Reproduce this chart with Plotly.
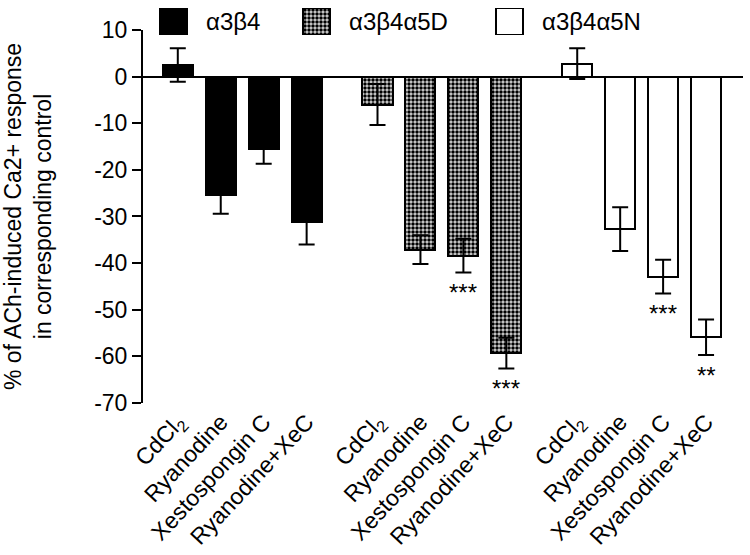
import plotly.graph_objects as go

# ---- data ----
treatments = ["CdCl<sub>2</sub>", "Ryanodine", "Xestospongin C", "Ryanodine+XeC"]
groups = ["α3β4", "α3β4α5D", "α3β4α5N"]
means = {
    "α3β4": [2.5, -25.3, -15.5, -31.2],
    "α3β4α5D": [-6.0, -37.1, -38.4, -59.3],
    "α3β4α5N": [2.8, -32.7, -42.9, -55.9],
}
errors = {
    "α3β4": [3.6, 4.1, 3.2, 4.8],
    "α3β4α5D": [4.4, 3.1, 3.6, 3.3],
    "α3β4α5N": [3.3, 4.7, 3.6, 3.8],
}
significance = {
    "α3β4": ["", "", "", ""],
    "α3β4α5D": ["", "", "***", "***"],
    "α3β4α5N": ["", "", "***", "**"],
}
y_ticks = [10, 0, -10, -20, -30, -40, -50, -60, -70]
y_tick_labels = ["10", "0", "-10", "-20", "-30", "-40", "-50", "-60", "-70"]
y_title = "% of ACh-induced Ca2+ response<br>in corresponding control"

# ---- style ----
FONT = "Liberation Sans, Arial, sans-serif"
styles = {
    "α3β4": dict(color="black", pattern=None),
    "α3β4α5D": dict(color="#9a9a9a", pattern=dict(shape=".", fgcolor="black", bgcolor="#d8d8d8",
                                                    size=4, solidity=0.6, fillmode="replace")),
    "α3β4α5N": dict(color="white", pattern=None),
}
GROUP_STRIDE = 4.65
BAR_W = 0.7

fig = go.Figure()
tickvals, ticktext = [], []
annotations = []
for g, name in enumerate(groups):
    xs = [g * GROUP_STRIDE + i for i in range(len(treatments))]
    tickvals += xs
    ticktext += treatments
    marker = dict(color=styles[name]["color"], line=dict(color="black", width=2))
    if styles[name]["pattern"]:
        marker["pattern"] = styles[name]["pattern"]
    fig.add_trace(go.Bar(
        x=xs, y=means[name], width=BAR_W, marker=marker, showlegend=False,
        error_y=dict(type="data", array=errors[name], visible=True,
                     color="black", thickness=2, width=8),
    ))
    for x, m, e, s in zip(xs, means[name], errors[name], significance[name]):
        if s:
            annotations.append(dict(x=x, y=m - e, xref="x", yref="y", text=s,
                                    showarrow=False, yanchor="top", yshift=-5,
                                    font=dict(family=FONT, size=24, color="black")))

# ---- custom legend (large boxes) on an overlay axis ----
legend_box_x = [30.5, 173.5, 366.5]   # pixel offsets from plot left
for name, lx in zip(groups, legend_box_x):
    marker = dict(color=styles[name]["color"], line=dict(color="black", width=2))
    if styles[name]["pattern"]:
        marker["pattern"] = styles[name]["pattern"]
    fig.add_trace(go.Bar(x=[lx], y=[1], width=27, marker=marker, showlegend=False,
                         xaxis="x2", yaxis="y2", hoverinfo="skip"))
    annotations.append(dict(x=lx + 30, y=0.5, xref="x2", yref="y2", text=name,
                            showarrow=False, xanchor="left", yanchor="middle",
                            font=dict(family=FONT, size=24, color="black")))

fig.update_layout(
    width=750, height=555,
    margin=dict(l=143, r=7, t=5, b=152, autoexpand=False),
    plot_bgcolor="white", paper_bgcolor="white",
    font=dict(family=FONT, size=22, color="black"),
    bargap=0, barmode="overlay",
    annotations=annotations,
    xaxis=dict(
        range=[-0.81, 2 * GROUP_STRIDE + 3 + 0.86], automargin=False,
        tickmode="array", tickvals=tickvals, ticktext=ticktext,
        tickangle=-47, showline=False, ticks="", showgrid=False, zeroline=False,
        tickfont=dict(family=FONT, size=23, color="black"),
    ),
    yaxis=dict(
        range=[-70, 10], domain=[0, 0.9372], automargin=False,
        tickmode="array", tickvals=y_ticks, ticktext=y_tick_labels,
        ticks="outside", ticklen=9, tickwidth=2, tickcolor="black",
        showline=True, linewidth=2, linecolor="black",
        showgrid=False, zeroline=True, zerolinecolor="black", zerolinewidth=2,
        tickfont=dict(family=FONT, size=23, color="black"),
        title=dict(text=y_title, font=dict(family=FONT, size=23, color="black"), standoff=38),
    ),
    xaxis2=dict(domain=[0, 1], range=[0, 600], visible=False, anchor="y2", overlaying="x",
                automargin=False),
    yaxis2=dict(domain=[0.9246, 0.9925], range=[0, 1], visible=False, anchor="x2",
                automargin=False),
)

fig.write_html("out.html", config={"displayModeBar": False},
               post_script="document.body.style.margin='0';")
